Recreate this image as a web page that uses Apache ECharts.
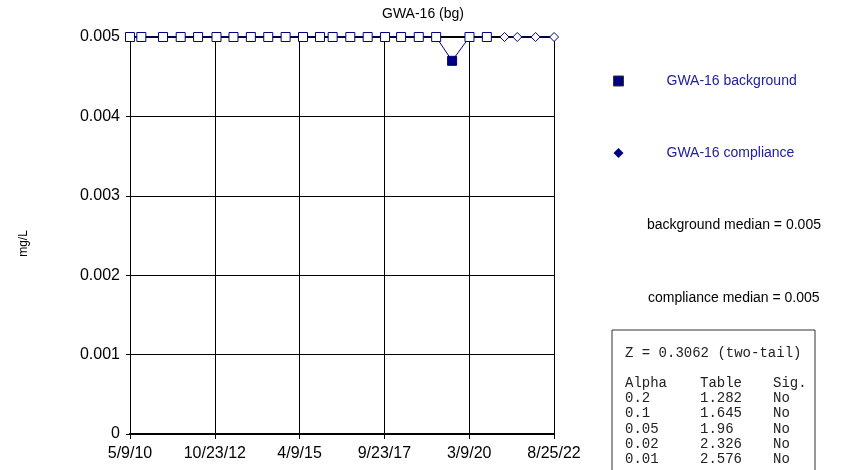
<!DOCTYPE html>
<html>
<head>
<meta charset="utf-8">
<script src="https://cdn.jsdelivr.net/npm/echarts@6/dist/echarts.min.js"></script>
<style>
  html, body { margin: 0; padding: 0; background: #fff; }
  #chart { width: 841px; height: 470px; }
</style>
</head>
<body>
<div id="chart"></div>
<script>
// sample dates and values (mg/L)
let bgDates = ['2010-05-09', '2010-09-06', '2011-04-24', '2011-10-28', '2012-04-29', '2012-11-10',
    '2013-05-09', '2013-11-09', '2014-05-12', '2014-11-12', '2015-05-15', '2015-11-11',
    '2016-03-24', '2016-09-27', '2017-03-30', '2017-09-30', '2018-03-19', '2018-09-22',
    '2019-03-25', '2019-09-10', '2020-03-12', '2020-09-12'];
let bgValues = [0.005, 0.005, 0.005, 0.005, 0.005, 0.005,
    0.005, 0.005, 0.005, 0.005, 0.005, 0.005,
    0.005, 0.005, 0.005, 0.005, 0.005, 0.005,
    0.005, 0.0047, 0.005, 0.005];
let cpDates = ['2021-03-18', '2021-07-31', '2022-02-10', '2022-08-25'];
let cpValues = [0.005, 0.005, 0.005, 0.005];

let xTickLabels = ['5/9/10', '10/23/12', '4/9/15', '9/23/17', '3/9/20', '8/25/22'];
let xTickStep = 898; // days between date ticks
let yTicks = [0, 0.001, 0.002, 0.003, 0.004, 0.005];

let alphas = ['0.2', '0.1', '0.05', '0.02', '0.01'];
let tableVals = ['1.282', '1.645', '1.96', '2.326', '2.576'];
let sigs = ['No', 'No', 'No', 'No', 'No'];

let navy = '#000080';
let startMs = Date.UTC(2010, 4, 9);
function dayOf(s) {
    return Math.round((Date.parse(s + 'T00:00:00Z') - startMs) / 86400000);
}

let bgData = bgDates.map(function (d, i) {
    let item = { value: [dayOf(d), bgValues[i]] };
    if (bgValues[i] < 0.005) {
        item.itemStyle = { color: navy };
    }
    return item;
});
let cpData = cpDates.map(function (d, i) {
    return [dayOf(d), cpValues[i]];
});

let font = 'Liberation Sans, Arial, sans-serif';
let mono = 'Liberation Mono, Courier New, monospace';

let statsGraphic = [
    { type: 'rect', shape: { x: 612, y: 330, width: 203, height: 150 },
      style: { fill: '#fff', stroke: '#333', lineWidth: 1 } },
    { type: 'text', x: 625, y: 353, style: { text: 'Z = 0.3062 (two-tail)', font: '14px ' + mono, fill: '#222', verticalAlign: 'middle' } },
    { type: 'text', x: 625, y: 383, style: { text: 'Alpha', font: '14px ' + mono, fill: '#222', verticalAlign: 'middle' } },
    { type: 'text', x: 700, y: 383, style: { text: 'Table', font: '14px ' + mono, fill: '#222', verticalAlign: 'middle' } },
    { type: 'text', x: 773, y: 383, style: { text: 'Sig.', font: '14px ' + mono, fill: '#222', verticalAlign: 'middle' } }
];
alphas.forEach(function (a, i) {
    let y = 398 + i * 15.4;
    statsGraphic.push({ type: 'text', x: 625, y: y, style: { text: a, font: '14px ' + mono, fill: '#222', verticalAlign: 'middle' } });
    statsGraphic.push({ type: 'text', x: 700, y: y, style: { text: tableVals[i], font: '14px ' + mono, fill: '#222', verticalAlign: 'middle' } });
    statsGraphic.push({ type: 'text', x: 773, y: y, style: { text: sigs[i], font: '14px ' + mono, fill: '#222', verticalAlign: 'middle' } });
});

let option = {
    animation: false,
    backgroundColor: '#fff',
    title: {
        text: 'GWA-16 (bg)',
        left: 418,
        top: 2,
        textAlign: 'center',
        textStyle: { fontFamily: font, fontSize: 14, fontWeight: 'normal', color: '#000' }
    },
    legend: {
        orient: 'vertical',
        left: 608,
        top: 69,
        itemWidth: 10,
        itemHeight: 10,
        itemGap: 58,
        textStyle: { fontFamily: font, fontSize: 14, color: '#2020a0', padding: [0, 0, 0, 38], lineHeight: 14 },
        data: [
            { name: 'GWA-16 background', icon: 'rect', itemStyle: { color: navy, borderColor: '#333', borderWidth: 1 } },
            { name: 'GWA-16 compliance', icon: 'diamond', itemStyle: { color: navy, borderColor: navy, borderWidth: 0 } }
        ]
    },
    grid: { left: 130, right: 287, top: 37, bottom: 36 },
    xAxis: [{
        type: 'value',
        min: 0,
        max: xTickStep * (xTickLabels.length - 1),
        interval: xTickStep,
        axisLine: { lineStyle: { color: '#000', width: 2 } },
        axisTick: { length: 5, lineStyle: { color: '#000' } },
        axisLabel: {
            fontFamily: font, fontSize: 16, color: '#000', margin: 12,
            formatter: function (v) { return xTickLabels[Math.round(v / xTickStep)]; }
        },
        splitLine: { show: true, lineStyle: { color: '#000', width: 1 } }
    }, {
        type: 'value',
        position: 'top',
        min: 0,
        max: xTickStep * (xTickLabels.length - 1),
        axisLine: { show: true, lineStyle: { color: '#000', width: 2 } },
        axisTick: { show: false },
        axisLabel: { show: false },
        splitLine: { show: false }
    }],
    yAxis: {
        type: 'value',
        min: yTicks[0],
        max: yTicks[yTicks.length - 1],
        interval: 0.001,
        name: 'mg/L',
        nameLocation: 'middle',
        nameGap: 100,
        nameRotate: 90,
        nameTextStyle: { fontFamily: font, fontSize: 12, color: '#000', padding: [0, 16, 0, 0] },
        axisLine: { show: true, lineStyle: { color: '#000', width: 1 } },
        axisTick: { show: true, length: 4, lineStyle: { color: '#000' } },
        axisLabel: {
            fontFamily: font, fontSize: 16, color: '#000', margin: 10,
            formatter: function (v) { return v === 0 ? '0' : v.toFixed(3); }
        },
        splitLine: { show: true, lineStyle: { color: '#000', width: 1 } }
    },
    graphic: [
        { type: 'text', x: 647, y: 225, style: { text: 'background median = 0.005', font: '14px ' + font, fill: '#000', verticalAlign: 'middle' } },
        { type: 'text', x: 648, y: 298, style: { text: 'compliance median = 0.005', font: '14px ' + font, fill: '#000', verticalAlign: 'middle' } }
    ].concat(statsGraphic),
    series: [
        {
            name: 'GWA-16 background',
            type: 'line',
            data: bgData,
            symbol: 'rect',
            symbolSize: 9,
            clip: false,
            lineStyle: { color: navy, width: 1 },
            itemStyle: { color: '#fff', borderColor: navy, borderWidth: 1 },
            z: 5
        },
        {
            name: 'GWA-16 compliance',
            type: 'line',
            data: cpData,
            symbol: 'diamond',
            symbolSize: 9,
            clip: false,
            lineStyle: { color: navy, width: 1 },
            itemStyle: { color: '#fff', borderColor: navy, borderWidth: 1 },
            z: 5
        }
    ]
};

let chart = echarts.init(document.getElementById('chart'));
chart.setOption(option);
</script>
</body>
</html>
